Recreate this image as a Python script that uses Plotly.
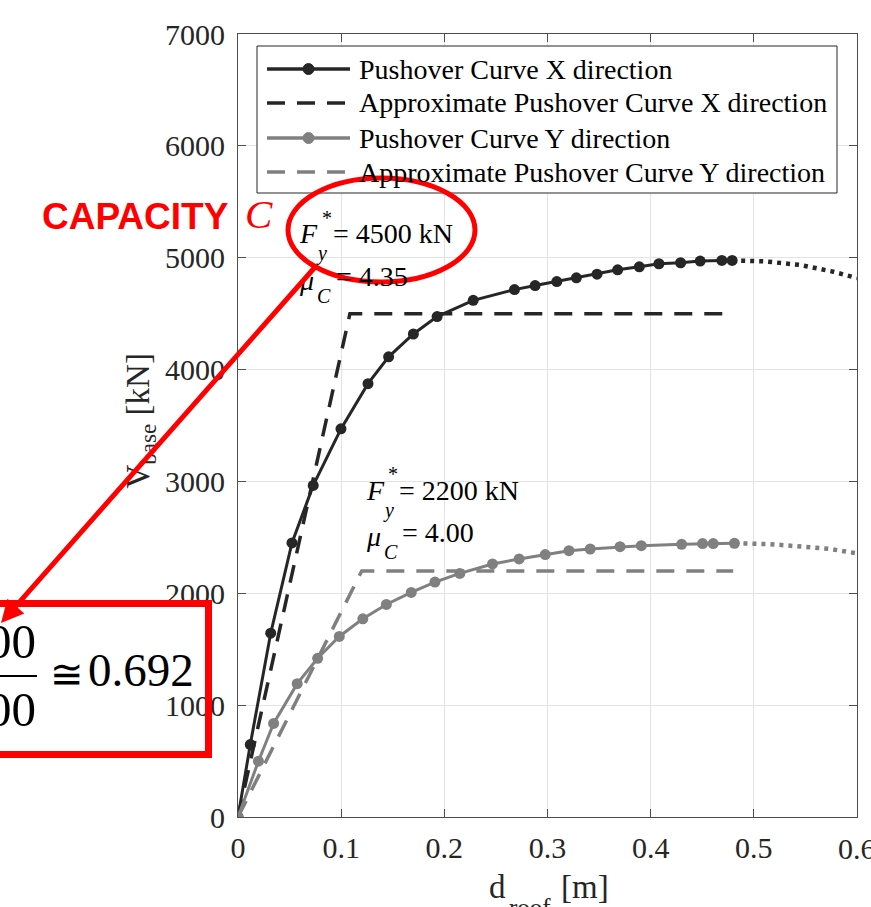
import plotly.graph_objects as go

# ---------------- data ----------------
push_x_d = [0, 0.0119, 0.0317, 0.0523, 0.0729, 0.0998, 0.126, 0.146, 0.170, 0.193, 0.228,
            0.268, 0.288, 0.309, 0.328, 0.348, 0.368, 0.389, 0.408, 0.429, 0.448, 0.469, 0.479]
push_x_v = [0, 648, 1643, 2450, 2964, 3470, 3874, 4114, 4318, 4474, 4619,
            4715, 4751, 4787, 4820, 4853, 4892, 4919, 4946, 4955, 4970, 4976, 4976]
ext_x_d = [0.479, 0.51, 0.545, 0.577, 0.6]
ext_x_v = [4976, 4968, 4935, 4875, 4818]

push_y_d = [0, 0.0198, 0.0345, 0.0574, 0.0772, 0.0982, 0.121, 0.1438, 0.1679, 0.1909, 0.215,
            0.2467, 0.2725, 0.2978, 0.3208, 0.3414, 0.3703, 0.3909, 0.430, 0.4503, 0.4606, 0.4812]
push_y_v = [0, 499, 837, 1192, 1419, 1614, 1772, 1900, 2008, 2100, 2178,
            2262, 2307, 2346, 2381, 2396, 2417, 2426, 2438, 2444, 2444, 2447]
ext_y_d = [0.4812, 0.515, 0.5465, 0.574, 0.6]
ext_y_v = [2447, 2440, 2417, 2396, 2357]

approx_x_d = [0, 0.1085, 0.472]
approx_x_v = [0, 4500, 4500]
approx_y_d = [0, 0.12, 0.48]
approx_y_v = [0, 2200, 2200]

legend_labels = ["Pushover Curve X direction", "Approximate Pushover Curve X direction",
                 "Pushover Curve Y direction", "Approximate Pushover Curve Y direction"]
x_ticks = [0, 0.1, 0.2, 0.3, 0.4, 0.5, 0.6]
x_ticklabels = ["0", "0.1", "0.2", "0.3", "0.4", "0.5", "0.6"]
y_ticks = [0, 1000, 2000, 3000, 4000, 5000, 6000, 7000]
y_ticklabels = ["0", "1000", "2000", "3000", "4000", "5000", "6000", "7000"]

fy_x, mu_x = "4500 kN", "4.35"
fy_y, mu_y = "2200 kN", "4.00"

# ---------------- styling ----------------
W, H = 871, 907
L, R, T, B = 238, 14, 34, 90
PW, PH = W - L - R, H - T - B
DARK = "#262626"
GRAY = "#808080"
RED = "#ff0000"
SERIF = "Liberation Serif, Times New Roman, serif"


def px(x):
    return (x - L) / PW


def py(y):
    return (H - B - y) / PH


fig = go.Figure()
fig.add_trace(go.Scatter(x=ext_x_d, y=ext_x_v, mode="lines",
                         line=dict(color=DARK, width=4.5, dash="4px,5px"), showlegend=False))
fig.add_trace(go.Scatter(x=ext_y_d, y=ext_y_v, mode="lines",
                         line=dict(color=GRAY, width=4.5, dash="4px,5px"), showlegend=False))
fig.add_trace(go.Scatter(x=approx_x_d, y=approx_x_v, mode="lines",
                         line=dict(color=DARK, width=3.5, dash="18px,12px"), showlegend=False))
fig.add_trace(go.Scatter(x=approx_y_d, y=approx_y_v, mode="lines",
                         line=dict(color=GRAY, width=3.5, dash="18px,12px"), showlegend=False))
fig.add_trace(go.Scatter(x=push_x_d, y=push_x_v, mode="lines+markers",
                         line=dict(color=DARK, width=3), marker=dict(color=DARK, size=11),
                         showlegend=False))
fig.add_trace(go.Scatter(x=push_y_d, y=push_y_v, mode="lines+markers",
                         line=dict(color=GRAY, width=3), marker=dict(color=GRAY, size=11),
                         showlegend=False))

shapes = []
annotations = []

# ---- manual legend (MATLAB style) ----
shapes.append(dict(type="rect", xref="paper", yref="paper", x0=px(257), x1=px(837),
                   y0=py(193), y1=py(46), line=dict(color=DARK, width=1),
                   fillcolor="white", layer="above"))
rows_y = [69, 103, 138, 172]
styles = [(DARK, "solid", True), (DARK, "18px,12px", False), (GRAY, "solid", True), (GRAY, "18px,12px", False)]
for ry, (col, dash, mk), lab in zip(rows_y, styles, legend_labels):
    shapes.append(dict(type="line", xref="paper", yref="paper", x0=px(267), x1=px(350),
                       y0=py(ry), y1=py(ry), line=dict(color=col, width=3.5, dash=dash), layer="above"))
    if mk:
        shapes.append(dict(type="circle", xref="paper", yref="paper", x0=px(303), x1=px(314),
                           y0=py(ry + 5.5), y1=py(ry - 5.5), line=dict(color=col, width=1),
                           fillcolor=col, layer="above"))
    annotations.append(dict(xref="paper", yref="paper", x=px(357), y=py(ry), text=lab,
                            showarrow=False, xanchor="left", yanchor="middle",
                            font=dict(family=SERIF, size=28, color="black")))


# ---- in-plot TeX-like labels ----
def fy_label(xf, yf, value, mu, xm, ym):
    a = []
    a.append(dict(x=xf, y=yf, text="<i>F</i>", xanchor="left"))
    a.append(dict(x=xf + 0.0215, y=yf + 140, text="*", xanchor="left", size=20))
    a.append(dict(x=xf + 0.0165, y=yf - 180, text="<i>y</i>", xanchor="left", size=20))
    a.append(dict(x=xf + 0.0325, y=yf, text="= " + value, xanchor="left"))
    a.append(dict(x=xm, y=ym, text="<i>\u03bc</i>", xanchor="left"))
    a.append(dict(x=xm + 0.0175, y=ym - 140, text="<i>C</i>", xanchor="left", size=20))
    a.append(dict(x=xm + 0.0355, y=ym + 30, text="= " + mu, xanchor="left"))
    out = []
    for d in a:
        out.append(dict(xref="x", yref="y", x=d["x"], y=d["y"], text=d["text"], showarrow=False,
                        xanchor=d["xanchor"], yanchor="middle",
                        font=dict(family=SERIF, size=d.get("size", 28), color="black")))
    return out


annotations += fy_label(0.0575, 5215, fy_x, mu_x, 0.0575, 4800)
annotations += fy_label(0.122, 2923, fy_y, mu_y, 0.122, 2510)

# ---- axis titles ----
annotations.append(dict(xref="paper", yref="paper", x=px(141), y=0.505, textangle=-90,
                        text="V<sub>base</sub> [kN]", showarrow=False, xanchor="center",
                        yanchor="middle", font=dict(family=SERIF, size=33, color=DARK)))
annotations.append(dict(xref="paper", yref="paper", x=px(487), y=py(887), text="d",
                        showarrow=False, xanchor="left", yanchor="middle",
                        font=dict(family=SERIF, size=33, color=DARK)))
annotations.append(dict(xref="paper", yref="paper", x=px(507), y=py(907), text="roof",
                        showarrow=False, xanchor="left", yanchor="middle",
                        font=dict(family=SERIF, size=25, color=DARK)))
annotations.append(dict(xref="paper", yref="paper", x=px(559), y=py(887), text="[m]",
                        showarrow=False, xanchor="left", yanchor="middle",
                        font=dict(family=SERIF, size=33, color=DARK)))
# last x tick label (cut by the page edge as in the reference)
annotations.append(dict(xref="paper", yref="paper", x=1, y=py(848), text=x_ticklabels[-1],
                        showarrow=False, xanchor="center", yanchor="middle",
                        font=dict(family=SERIF, size=30, color=DARK)))

# ---- red overlay (slide annotations) ----
shapes.append(dict(type="circle", xref="paper", yref="paper", x0=px(288), x1=px(475),
                   y0=py(282), y1=py(178), line=dict(color=RED, width=5), layer="above"))
shapes.append(dict(type="rect", xref="paper", yref="paper", x0=px(-20), x1=px(208.5),
                   y0=py(754.5), y1=py(603.5), line=dict(color=RED, width=7), layer="above"))
shapes.append(dict(type="line", xref="paper", yref="paper", x0=px(-5), x1=px(37),
                   y0=py(676), y1=py(676), line=dict(color="black", width=2), layer="above"))
annotations.append(dict(xref="paper", yref="paper", x=px(0), y=py(623), ax=316, ay=-357,
                        axref="pixel", ayref="pixel", text="", showarrow=True, arrowhead=2,
                        arrowsize=0.9, arrowwidth=5, arrowcolor=RED, standoff=0))
annotations.append(dict(xref="paper", yref="paper", x=px(38), y=py(641), text="4500",
                        showarrow=False, xanchor="right", yanchor="middle",
                        font=dict(family=SERIF, size=49, color="black")))
annotations.append(dict(xref="paper", yref="paper", x=px(38), y=py(709), text="6500",
                        showarrow=False, xanchor="right", yanchor="middle",
                        font=dict(family=SERIF, size=49, color="black")))
annotations.append(dict(xref="paper", yref="paper", x=px(48), y=py(674), text="\u2245",
                        showarrow=False, xanchor="left", yanchor="middle",
                        font=dict(family=SERIF, size=40, color="black")))
annotations.append(dict(xref="paper", yref="paper", x=px(86), y=py(670), text="0.692",
                        showarrow=False, xanchor="left", yanchor="middle",
                        font=dict(family=SERIF, size=47, color="black")))
annotations.append(dict(xref="paper", yref="paper", x=px(231), y=py(216), text="<b>CAPACITY</b>",
                        showarrow=False, xanchor="right", yanchor="middle",
                        font=dict(family="Liberation Sans, Arial, sans-serif", size=37, color=RED)))
annotations.append(dict(xref="paper", yref="paper", x=px(243), y=py(214), text="<i>C</i>",
                        showarrow=False, xanchor="left", yanchor="middle",
                        font=dict(family=SERIF, size=41, color=RED)))

axis_common = dict(showline=True, linecolor="#4d4d4d", linewidth=1, mirror="ticks",
                   ticks="inside", ticklen=8, tickcolor="#4d4d4d", showgrid=True,
                   gridcolor="#e3e3e3", gridwidth=1, zeroline=False,
                   tickfont=dict(family=SERIF, size=30, color=DARK))

fig.update_layout(
    width=W, height=H, margin=dict(l=L, r=R, t=T, b=B, autoexpand=False),
    paper_bgcolor="white", plot_bgcolor="white", showlegend=False,
    xaxis=dict(range=[0, 0.6], tickvals=x_ticks, ticktext=x_ticklabels,
               ticklabelstandoff=4, **axis_common),
    yaxis=dict(range=[0, 7000], tickvals=y_ticks, ticktext=y_ticklabels,
               ticklabelstandoff=6, **axis_common),
    shapes=shapes, annotations=annotations,
)

fig.write_html("out.html")
